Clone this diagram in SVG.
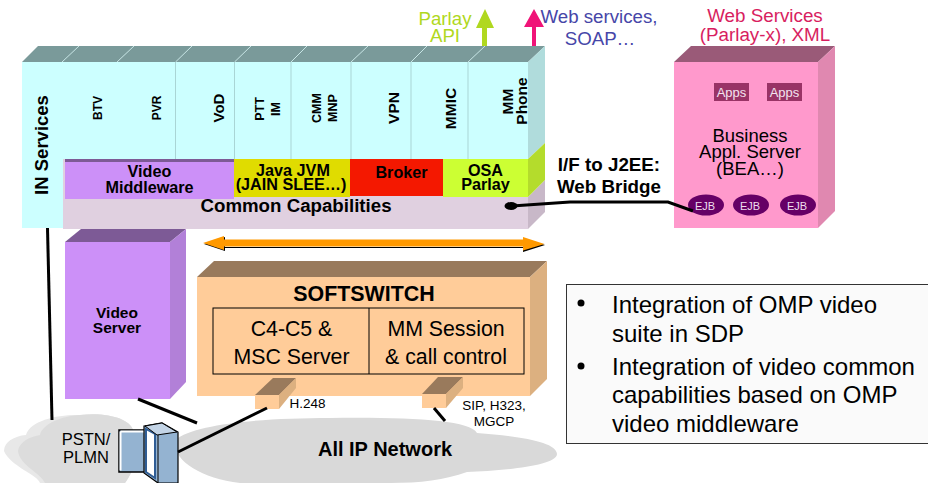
<svg xmlns="http://www.w3.org/2000/svg" width="928" height="483" viewBox="0 0 928 483">
<style>
text{font-family:"Liberation Sans",Arial,sans-serif;fill:#000;text-anchor:middle}
.b{font-weight:bold}
.cl{stroke:#a9d5d5;stroke-width:1;fill:none}
.tl{stroke:#c8e6e6;stroke-width:1;fill:none}
.w{stroke:#000;stroke-width:3;fill:none}
.ejb{fill:#660066}
.app{fill:#993366}
.s{text-anchor:start;font-size:24px}
.r{font-size:15.5px}
.m{font-size:16.2px}
.apt{fill:#f4e4f0;font-size:13px}
.ejt{fill:#eedcee;font-size:11px}
.lime{fill:#b0d820}
.blue{fill:#4646a8}
.rose{fill:#d81e60}
</style>
<rect width="928" height="483" fill="#fff"/>
<g id="ip-cloud">
<path d="M175 440C195 424 260 418 330 418C410 417 470 420 477 433C520 436 557 442 557 454C557 466 500 471 467 472C445 480 420 483 390 483L240 483C200 478 172 460 175 440Z" fill="#d9d9d9"/>
</g>
<g id="pstn-cloud">
<path d="M4 451C4 442 14 436 26 435C30 420 60 414 80 415C110 412 130 420 133 430C140 450 135 470 125 483L40 483C38 475 10 466 4 451Z" fill="#e8e8e8"/>
<path d="M18 451C19 443 28 437 40 435C42 424 62 416 80 415C110 412 130 420 133 430C140 450 135 470 125 483L45 483C40 472 20 466 18 451Z" fill="#dcdcdc"/>
<text x="86" y="445" font-size="16.500">PSTN/</text>
<text x="86" y="463" font-size="16.500">PLMN</text>
</g>
<g id="router">
<rect x="119" y="430" width="28" height="42" fill="#94b3d1" stroke="#000" stroke-width="1.500"/>
<path d="M120.500 431.500H146M120.500 431.500V470.500" stroke="#fff" stroke-width="2" fill="none"/>
<path d="M144 426L162 423L178 432L178 483L158 483L144 473Z" fill="#94b3d1" stroke="#000" stroke-width="1.200"/>
<path d="M146 429L155 434L155 478L146 472Z" fill="#fff" stroke="#2f5d95" stroke-width="2"/>
<path d="M145 426L162 423L177 432L157 435Z" fill="#c3d4e6" stroke="#000" stroke-width="1"/>
<path d="M158 435L158 483" stroke="#000" stroke-width="1"/>
</g>
<g id="services-block">
<path d="M22 62L38 46L545 46L528 62Z" fill="#7a9a9a"/>
<path class="tl" d="M62 62L79 46M117 62L134 46M175.500 62L192 46M234.500 62L251 46M291 62L307 46M351 62L368 46M411 62L427 46M468 62L485 46"/>
<path d="M528 62L545 46L545 143L528 159Z" fill="#b0dcdc"/>
<rect x="22" y="62" width="506" height="97" fill="#ccffff"/>
<path class="cl" d="M175.500 62V159M234.500 62V159M291 62V159M351 62V159M411 62V159M468 62V159"/>
<rect x="22" y="159" width="41" height="69" fill="#ccffff"/>
<text class="b" transform="translate(48 145) rotate(-90)" font-size="18.500">IN Services</text>
<text class="b" transform="translate(102 108) rotate(-90)" font-size="12">BTV</text>
<text class="b" transform="translate(161 108) rotate(-90)" font-size="12">PVR</text>
<text class="b" transform="translate(224 108) rotate(-90)" font-size="15">VoD</text>
<text class="b" transform="translate(264 109) rotate(-90)" font-size="12.500">PTT</text>
<text class="b" transform="translate(280 109) rotate(-90)" font-size="12.500">IM</text>
<text class="b" transform="translate(321 108) rotate(-90)" font-size="12.500">CMM</text>
<text class="b" transform="translate(337 108) rotate(-90)" font-size="12.500">MNP</text>
<text class="b r" transform="translate(399 108) rotate(-90)">VPN</text>
<text class="b r" transform="translate(456 108.500) rotate(-90)">MMIC</text>
<text class="b r" transform="translate(513 101.500) rotate(-90)">MM</text>
<text class="b r" transform="translate(527 101) rotate(-90)">Phone</text>
</g>
<g id="common-capabilities">
<rect x="63" y="159" width="465" height="70" fill="#e0d0e0"/>
<path d="M528 197L545 180L545 212L528 229Z" fill="#c8b8c8"/>
<text class="b" x="296" y="212" font-size="18.700">Common Capabilities</text>
</g>
<g id="video-middleware">
<rect x="65" y="159" width="169" height="3" fill="#7d5a96"/>
<rect x="65" y="162" width="169" height="37" fill="#cc90f8"/>
<text class="b m" x="149.500" y="177">Video</text>
<text class="b m" x="149.500" y="193">Middleware</text>
</g>
<g id="java-jvm">
<rect x="234" y="159" width="116" height="38" fill="#e0dc00"/>
<text class="b m" x="293" y="176">Java JVM</text>
<text class="b m" x="291" y="190">(JAIN SLEE…)</text>
</g>
<g id="broker">
<rect x="350" y="159" width="93" height="37" fill="#f41800"/>
<text class="b m" x="401.500" y="178">Broker</text>
</g>
<g id="osa-parlay">
<rect x="443" y="159" width="85" height="38" fill="#ccff33"/>
<path d="M528 159L545 143L545 180L528 197Z" fill="#b4dc2c"/>
<text class="b m" x="485.500" y="176">OSA</text>
<text class="b m" x="485.500" y="190">Parlay</text>
</g>
<g id="parlay-api">
<path d="M482 46V28H476L485 9L494 28H487V46Z" class="lime"/>
<text class="lime" x="445" y="25" font-size="18.700">Parlay</text>
<text class="lime" x="445" y="42" font-size="18.700">API</text>
</g>
<g id="web-services-soap">
<path d="M532 46V27H524L534 9L544 27H536V46Z" fill="#f01478"/>
<text class="blue" x="599" y="23" font-size="18.700">Web services,</text>
<text class="blue" x="600" y="45" font-size="18.700">SOAP…</text>
</g>
<g id="business-server">
<path d="M674 62L691 46L835 46L818 62Z" fill="#9a5a78"/>
<path d="M818 62L835 46L835 211L818 228Z" fill="#e088b0"/>
<rect x="674" y="62" width="144" height="166" fill="#ff99cc"/>
<text class="rose" x="765" y="22" font-size="18.800">Web Services</text>
<text class="rose" x="765" y="41" font-size="18.800">(Parlay-x), XML</text>
<rect class="app" x="714" y="83" width="35" height="18"/>
<text class="apt" x="731.500" y="97">Apps</text>
<rect class="app" x="767" y="83" width="35" height="18"/>
<text class="apt" x="784.500" y="97">Apps</text>
<text x="750" y="142" font-size="18.500">Business</text>
<text x="750" y="158" font-size="18.500">Appl. Server</text>
<text x="750" y="175" font-size="18.500">(BEA…)</text>
<ellipse class="ejb" cx="706" cy="205" rx="18" ry="10.500"/>
<ellipse class="ejb" cx="751" cy="205" rx="18" ry="10.500"/>
<ellipse class="ejb" cx="798" cy="205" rx="18" ry="10.500"/>
</g>
<g id="web-bridge-label">
<text class="b" x="609" y="171" font-size="18.800">I/F to J2EE:</text>
<text class="b" x="609" y="193" font-size="18.800">Web Bridge</text>
</g>
<g id="orange-arrow">
<path d="M204 244L225 237L225 247H523L523 238L545 245L523 252L523 248H225L225 251Z" fill="#000"/>
<path d="M203 243L224 236L224 239.500H523L523 237L544.500 244L523 250.500L523 246.500H224L224 250Z" fill="#ff9900"/>
</g>
<g id="video-server">
<path d="M65 242L81 229L186 229L170 242Z" fill="#7d5a96"/>
<path d="M170 242L186 229L186 382L170 399Z" fill="#b280d8"/>
<rect x="65" y="242" width="105" height="157" fill="#cc90f8"/>
<text class="b" x="117" y="318" font-size="15.500">Video</text>
<text class="b" x="117" y="333" font-size="15.500">Server</text>
</g>
<g id="softswitch">
<path d="M197 277L214 261L547 261L530 277Z" fill="#997a5c"/>
<path d="M530 277L547 261L547 379L530 396Z" fill="#dcb080"/>
<rect x="197" y="277" width="333" height="119" fill="#ffcc99"/>
<text class="b" x="364" y="301" font-size="21.400">SOFTSWITCH</text>
<rect x="213" y="308" width="311" height="66" fill="none" stroke="#000" stroke-width="1"/>
<path d="M369 308V374" stroke="#000" stroke-width="1"/>
<text x="291.500" y="336" font-size="21.300">C4-C5 &amp;</text>
<text x="291.500" y="364" font-size="21.300">MSC Server</text>
<text x="446" y="336" font-size="21.300">MM Session</text>
<text x="446" y="364" font-size="21.300">&amp; call control</text>
</g>
<g id="h248-port">
<path d="M255 395L273 378L296 378L279 395Z" fill="#997a5c"/>
<path d="M279 395L296 378L296 388L279 409Z" fill="#dcb080"/>
<rect x="255" y="395" width="24" height="14" fill="#ffcc99"/>
<text x="307.500" y="408" font-size="13.500">H.248</text>
</g>
<g id="sip-port">
<path d="M422 394L438 377L463 377L446 394Z" fill="#997a5c"/>
<path d="M446 394L463 377L463 388L446 408Z" fill="#dcb080"/>
<rect x="422" y="394" width="24" height="14" fill="#ffcc99"/>
<text x="494" y="410" font-size="13.500">SIP, H323,</text>
<text x="494" y="426" font-size="13.500">MGCP</text>
</g>
<g id="connectors">
<path class="w" d="M47.500 228L52 420"/>
<path class="w" d="M138 399L197 423"/>
<path class="w" d="M178 452L267 408"/>
<path class="w" d="M434 408L445 421"/>
<path class="w" d="M512 206L570 202L668 202L693 211"/>
<ellipse cx="511" cy="206" rx="6.500" ry="4" fill="#000"/>
</g>
<g id="ejb-labels">
<text class="ejt" x="705" y="210">EJB</text>
<text class="ejt" x="750" y="210">EJB</text>
<text class="ejt" x="797" y="210">EJB</text>
</g>
<text id="ip-label" class="b" x="385" y="456" font-size="20">All IP Network</text>
<g id="bullets">
<rect x="566.500" y="284.500" width="370" height="159" fill="#fafafa" stroke="#333" stroke-width="1"/>
<circle cx="581" cy="303" r="3.500" fill="#000"/>
<text class="s" x="612" y="313">Integration of OMP video</text>
<text class="s" x="612" y="342">suite in SDP</text>
<circle cx="581" cy="366" r="3.500" fill="#000"/>
<text class="s" x="612" y="375">Integration of video common</text>
<text class="s" x="612" y="403">capabilities based on OMP</text>
<text class="s" x="612" y="432">video middleware</text>
</g>
</svg>
